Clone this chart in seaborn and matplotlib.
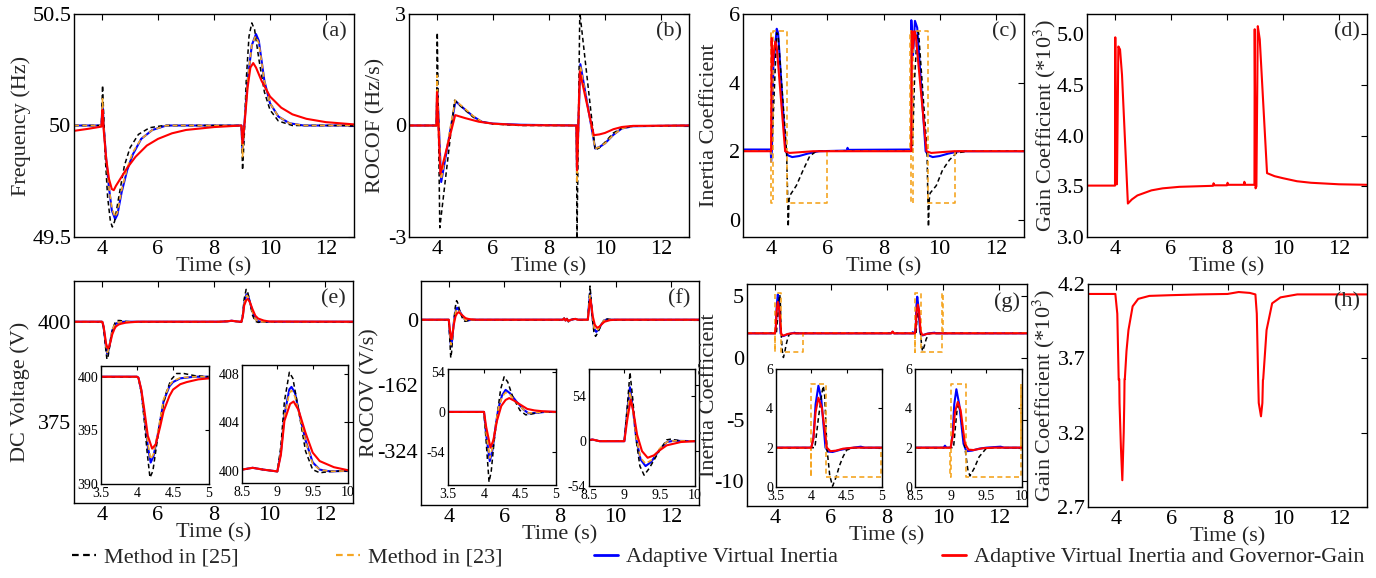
import matplotlib
matplotlib.use("Agg")
import matplotlib.pyplot as plt
import seaborn as sns
from matplotlib.lines import Line2D

sns.set_theme(style="white")
plt.rcParams['font.family'] = ['Liberation Serif', 'DejaVu Serif']
plt.rcParams['mathtext.fontset'] = 'stix'

W, H = 1376, 578

# ---------------- data (time, value) ----------------
# (a) Frequency (Hz)
a_m25 = [(3,50),(3.98,50),(4.02,50.18),(4.06,50.05),(4.12,49.85),(4.2,49.68),(4.3,49.57),(4.37,49.545),
         (4.45,49.57),(4.6,49.68),(4.8,49.82),(5.0,49.9),(5.3,49.96),(5.7,49.99),(6.2,50.0),(8.98,50),
         (9.02,49.8),(9.08,49.95),(9.15,50.2),(9.25,50.4),(9.35,50.46),(9.45,50.43),(9.6,50.3),(9.8,50.15),
         (10.0,50.07),(10.3,50.02),(10.8,50.0),(13,50)]
a_m23 = [(3,50),(3.98,50),(4.02,50.12),(4.06,50.0),(4.15,49.85),(4.25,49.72),(4.35,49.63),(4.46,49.59),
         (4.55,49.61),(4.7,49.71),(4.9,49.81),(5.1,49.88),(5.4,49.94),(5.8,49.98),(6.3,50),(8.98,50),
         (9.02,49.86),(9.08,50.0),(9.2,50.2),(9.35,50.36),(9.48,50.40),(9.6,50.37),(9.8,50.2),(10.0,50.1),
         (10.3,50.04),(10.7,50.01),(11.2,50),(13,50)]
a_avi = [(3,50),(3.98,50),(4.02,50.1),(4.06,50.0),(4.15,49.85),(4.25,49.72),(4.35,49.62),(4.47,49.58),
         (4.55,49.6),(4.7,49.7),(4.9,49.8),(5.1,49.87),(5.4,49.94),(5.8,49.98),(6.3,50),(8.98,50),
         (9.02,49.88),(9.08,50.0),(9.2,50.2),(9.35,50.36),(9.5,50.41),(9.6,50.38),(9.8,50.2),(10.0,50.1),
         (10.3,50.04),(10.7,50.01),(11.2,50),(13,50)]
a_avig = [(3,49.976),(3.5,49.985),(3.98,49.995),(4.02,50.07),(4.06,49.98),(4.15,49.85),(4.25,49.76),
          (4.35,49.715),(4.42,49.71),(4.5,49.73),(4.7,49.77),(4.9,49.81),(5.2,49.86),(5.6,49.91),(6.0,49.94),
          (6.5,49.965),(7,49.98),(8,49.993),(8.98,50),(9.02,49.92),(9.1,50.02),(9.2,50.17),(9.3,50.26),
          (9.4,50.28),(9.5,50.26),(9.7,50.2),(10.0,50.13),(10.4,50.08),(10.8,50.05),(11.3,50.03),(12,50.015),(13,50.005)]

# (b) ROCOF (Hz/s)
b_m25 = [(3,0),(3.98,0),(4.01,2.5),(4.1,-2.75),(4.63,0.68),(4.8,0.55),(5.0,0.42),(5.3,0.22),(5.6,0.1),
         (6.0,0.04),(7,0.0),(8.98,0),(9.0,-3.05),(9.1,3.05),(9.65,-0.66),(9.8,-0.6),(10.0,-0.45),(10.3,-0.2),
         (10.6,-0.07),(11,-0.01),(13,0)]
b_m23 = [(3,0),(3.98,0),(4.0,1.35),(4.02,0.9),(4.15,-1.45),(4.65,0.68),(4.8,0.58),(5.0,0.45),(5.3,0.25),
         (5.6,0.1),(6,0.04),(7,0.01),(8.98,0),(9.0,-1.55),(9.12,1.6),(9.65,-0.62),(9.8,-0.58),(10,-0.48),
         (10.3,-0.25),(10.6,-0.08),(11,-0.02),(13,0)]
b_avi = [(3,0),(3.98,0),(4.01,1.0),(4.15,-1.52),(4.66,0.66),(4.8,0.56),(5.0,0.43),(5.3,0.24),(5.6,0.1),
         (6,0.05),(7,0.02),(8,0.01),(8.98,0),(9.0,-1.2),(9.12,1.65),(9.65,-0.62),(9.8,-0.58),(10,-0.48),
         (10.3,-0.25),(10.6,-0.08),(11,-0.02),(13,0)]
b_avig = [(3,0),(3.98,0),(4.0,0.9),(4.12,-1.3),(4.65,0.28),(5.0,0.2),(5.5,0.1),(6,0.05),(7,0.01),(8.98,0),
          (9.0,-1.2),(9.1,1.45),(9.6,-0.26),(9.8,-0.24),(10,-0.2),(10.3,-0.1),(10.6,-0.04),(11,-0.01),(13,0)]

# (c) Inertia coefficient
c_m25 = [(3,2),(4.03,2),(4.1,3.5),(4.2,5.45),(4.25,5.4),(4.55,2.0),(4.58,1.0),(4.61,-0.2),(4.64,0.6),
         (4.7,0.75),(4.9,1.0),(5.14,1.45),(5.37,1.85),(5.6,2.0),(9.03,2),(9.1,4),(9.2,5.5),(9.25,5.45),
         (9.55,2.0),(9.57,1.0),(9.6,-0.2),(9.63,0.6),(9.66,0.78),(9.88,1.0),(10.1,1.45),(10.35,1.75),
         (10.6,1.95),(11.0,2.0),(13,2)]
c_m23 = [(3,2),(3.98,2),(3.98,5.5),(4.0,5.5),(4.0,0.5),(4.08,0.5),(4.08,5.5),(4.58,5.5),(4.58,0.5),
         (6.0,0.5),(6.0,2),(8.96,2),(8.96,5.5),(8.98,5.5),(8.98,0.5),(9.05,0.5),(9.05,5.5),(9.57,5.5),
         (9.57,0.5),(10.56,0.5),(10.56,2),(13,2)]
c_avi = [(3,2.05),(3.99,2.05),(4.0,1.7),(4.03,2.05),(4.08,4.5),(4.2,5.57),(4.25,5.45),(4.52,2.0),(4.6,1.88),
         (4.75,1.83),(5.0,1.86),(5.3,1.93),(5.7,2.0),(6.7,2.02),(6.72,2.1),(6.75,2.04),(8.98,2.05),(8.99,5.82),
         (9.05,4.8),(9.12,5.8),(9.2,5.6),(9.5,2.0),(9.6,1.88),(9.75,1.83),(10.0,1.86),(10.3,1.93),(10.7,2.0),(13,2.0)]
c_avig = [(3,2.0),(4.0,2.0),(4.02,5.3),(4.05,4.5),(4.1,4.9),(4.15,5.2),(4.2,5.05),(4.5,2.0),(4.65,1.95),
          (5.0,1.97),(5.5,2.0),(8.99,2.0),(9.01,5.5),(9.05,5.0),(9.1,5.5),(9.15,5.35),(9.53,2.0),(9.7,1.95),
          (10.0,1.97),(10.5,2.0),(13,2.0)]

# (d) Gain coefficient (x10^3)
d_avig = [(3,3.507),(4.0,3.507),(4.01,4.97),(4.04,3.52),(4.07,3.52),(4.12,4.88),(4.18,4.85),(4.25,4.6),
          (4.46,3.33),(4.6,3.37),(4.8,3.41),(5.0,3.43),(5.3,3.46),(5.7,3.48),(6.3,3.495),(7.5,3.505),
          (7.52,3.53),(7.55,3.51),(8.0,3.51),(8.02,3.535),(8.05,3.515),(8.6,3.515),(8.62,3.545),(8.65,3.515),
          (8.98,3.515),(8.99,5.05),(9.02,3.48),(9.05,3.5),(9.1,5.08),(9.17,4.95),(9.43,3.63),(9.7,3.6),
          (10.0,3.58),(10.5,3.55),(11.0,3.535),(12.0,3.52),(13,3.515)]

# (e) DC voltage (V)
e_m25 = [(3,400),(4.0,400),(4.02,399.9),(4.06,398.5),(4.1,396),(4.14,393),(4.18,390.6),(4.22,391.2),
         (4.27,393.5),(4.33,396.3),(4.4,398.4),(4.47,399.7),(4.55,400.3),(4.65,400.3),(4.8,400.1),(5,400.0),
         (8.2,400.0),(8.5,400.1),(8.65,400.25),(8.8,400.1),(9.0,399.95),(9.05,402),(9.1,405.7),(9.17,408.1),
         (9.22,407.6),(9.3,405.0),(9.4,401.6),(9.5,400.1),(9.6,399.84),(9.75,399.95),(10,400),(13,400)]
e_m23 = [(3,400),(4.0,400),(4.02,399.9),(4.06,398.7),(4.1,396.6),(4.15,393.8),(4.19,392.3),(4.23,392.8),
         (4.3,395.2),(4.37,397.9),(4.45,399.2),(4.5,399.6),(4.6,399.9),(4.8,400),(5,400),
         (8.2,400.0),(8.5,400.1),(8.65,400.25),(8.8,400.1),(9.0,399.95),(9.05,401.5),(9.1,404.5),(9.17,406.4),
         (9.2,406.6),(9.25,406.1),(9.3,404.9),(9.4,402.4),(9.5,400.6),(9.6,400.1),(9.75,399.95),(10,400),(13,400)]
e_avi = [(3,400),(4.0,400),(4.02,399.9),(4.06,398.7),(4.1,396.5),(4.15,393.5),(4.19,392.0),(4.23,392.6),
         (4.3,395),(4.37,397.75),(4.45,399.1),(4.5,399.5),(4.6,399.85),(4.8,400),(5,400),
         (8.2,400.0),(8.5,400.1),(8.65,400.25),(8.8,400.1),(9.0,399.95),(9.05,401.5),(9.1,404.6),(9.17,406.7),
         (9.2,406.9),(9.25,406.4),(9.3,405),(9.4,402.5),(9.5,400.7),(9.6,400.1),(9.75,399.95),(10,400),(13,400)]
e_avig = [(3,400),(4.0,400),(4.02,399.9),(4.06,398.8),(4.1,397),(4.15,394.5),(4.21,393.3),(4.26,393.7),
          (4.32,395.3),(4.37,396.8),(4.45,398.2),(4.5,398.8),(4.6,399.3),(4.69,399.5),(4.85,399.75),(5,399.85),
          (5.3,400),(8.2,400.0),(8.5,400.1),(8.65,400.25),(8.8,400.1),(9.0,399.95),(9.05,401.3),(9.1,404.1),
          (9.18,405.5),(9.23,405.7),(9.3,405.0),(9.4,403.1),(9.5,401.5),(9.6,400.8),(9.8,400.3),(10,400.05),(13,400)]

# (f) ROCOV (V/s)
f_m25 = [(3,0),(4.0,0),(4.03,-40),(4.07,-94),(4.1,-80),(4.14,-40),(4.19,0),(4.23,30),(4.28,47),(4.33,40),
         (4.4,20),(4.5,2),(4.58,-4),(4.65,-3),(4.8,0),(5,0),(8.1,0),(8.15,4),(8.2,-3),(8.25,3),(8.3,-5),(8.4,0),
         (8.55,2),(8.65,0),(9.0,0),(9.04,40),(9.08,83),(9.12,50),(9.17,0),(9.22,-30),(9.28,-41),(9.35,-33),
         (9.5,-11),(9.6,1.6),(9.65,2.4),(9.8,0.5),(10,0),(13,0)]
f_m23 = [(3,0),(4.0,0),(4.03,-28),(4.08,-62),(4.12,-47),(4.16,-18),(4.2,5),(4.25,20),(4.3,26),(4.36,23),
         (4.45,13),(4.55,3),(4.62,-1.5),(4.7,-1),(4.85,0),(5,0),(8.1,0),(8.15,3),(8.2,-2),(8.25,2),(8.3,-4),
         (8.4,0),(8.55,2),(8.65,0),(9.0,0),(9.04,32),(9.08,60),(9.12,38),(9.17,3),(9.23,-20),(9.3,-27),
         (9.38,-23),(9.5,-9),(9.6,-1),(9.7,0.5),(10,0),(13,0)]
f_avi = [(3,0),(4.0,0),(4.03,-30),(4.08,-66),(4.12,-50),(4.16,-20),(4.2,5),(4.25,22),(4.3,29.5),(4.36,25),
         (4.45,14),(4.55,3),(4.62,-2),(4.7,-1.5),(4.85,0),(5,0),(8.1,0),(8.15,3),(8.2,-2),(8.25,2),(8.3,-4),
         (8.4,0),(8.55,2),(8.65,0),(9.0,0),(9.04,35),(9.08,65),(9.12,40),(9.17,2),(9.23,-22),(9.3,-30),
         (9.38,-25),(9.5,-10),(9.6,-1),(9.7,0.5),(10,0),(13,0)]
f_avig = [(3,0),(4.0,0),(4.03,-20),(4.09,-48),(4.13,-38),(4.18,-12),(4.24,8),(4.3,16),(4.35,18.5),(4.42,15),
          (4.5,10),(4.6,4),(4.7,2),(4.8,1),(5,0),(8.1,0),(8.15,3),(8.2,-2),(8.25,2),(8.3,-3),(8.4,0),(8.55,2),
          (8.65,0),(9.0,0),(9.04,25),(9.09,50),(9.13,35),(9.18,8),(9.25,-12),(9.33,-20),(9.42,-17),(9.5,-11),
          (9.6,-5),(9.8,-1),(10,0),(13,0)]

# (g) Inertia coefficient
g_m25 = [(3,2),(4.05,2),(4.1,3.5),(4.15,4.8),(4.17,5.14),(4.19,4.6),(4.22,2.0),(4.26,0.6),(4.3,0.04),
         (4.35,0.5),(4.4,1.1),(4.45,1.55),(4.5,1.88),(4.6,2.0),(9.04,2),(9.07,3.2),(9.1,4.28),(9.14,3.8),
         (9.2,2.0),(9.24,0.9),(9.27,0.56),(9.33,0.95),(9.4,1.54),(9.5,1.97),(9.6,2.0),(13,2)]
g_m23 = [(3,2),(3.99,2),(3.99,0.5),(4.0,0.5),(4.0,5.25),(4.21,5.25),(4.21,0.5),(4.99,0.5),(4.99,2),
         (8.99,2),(8.99,0.5),(9.0,0.5),(9.0,5.25),(9.21,5.25),(9.21,0.5),(9.98,0.5),(9.98,5.25),(9.99,5.25),
         (9.99,2),(13,2)]
g_avi = [(3,2),(4.0,2),(4.03,2.5),(4.06,4.2),(4.1,5.15),(4.14,4.5),(4.2,2.0),(4.24,1.8),(4.3,1.78),
         (4.4,1.88),(4.5,1.95),(4.6,2.0),(4.7,2.05),(4.75,2.0),(8.15,2.0),(8.2,2.12),(8.25,2.0),(8.9,2.0),
         (8.92,2.1),(8.94,2.0),(9.0,2.0),(9.03,2.8),(9.05,4.2),(9.08,4.97),(9.12,4.2),(9.18,2.2),(9.22,1.82),
         (9.3,1.85),(9.4,1.95),(9.5,2.0),(9.7,2.05),(9.75,2.0),(13,2)]
g_avig = [(3,2),(4.0,2),(4.03,2.5),(4.06,3.8),(4.1,4.54),(4.15,4.0),(4.22,2.0),(4.27,1.82),(4.35,1.85),
          (4.45,1.95),(4.6,2.0),(8.15,2.0),(8.2,2.15),(8.25,2.0),(9.0,2.0),(9.03,2.6),(9.06,3.8),(9.1,4.33),
          (9.14,3.9),(9.2,2.2),(9.25,1.9),(9.32,1.88),(9.45,1.97),(9.6,2.0),(13,2)]

# (h) Gain coefficient (x10^3)
h_avig = [(3,4.133),(3.98,4.133),(4.05,4.0),(4.1,3.555),(4.12,3.56),(4.13,3.40),(4.18,3.1),(4.23,2.88),
          (4.28,3.2),(4.3,3.4),(4.31,3.56),(4.32,3.56),(4.38,3.75),(4.45,3.89),(4.6,4.05),(4.8,4.1),
          (5.2,4.12),(6.0,4.125),(7.0,4.13),(8.0,4.133),(8.4,4.146),(8.8,4.14),(9.0,4.13),(9.05,4.0),
          (9.1,3.555),(9.12,3.4),(9.2,3.31),(9.25,3.4),(9.27,3.555),(9.28,3.56),(9.4,3.89),(9.6,4.07),
          (9.9,4.11),(10.5,4.13),(13,4.13)]

legend_labels = ["Method in [25]", "Method in [23]", "Adaptive Virtual Inertia",
                 "Adaptive Virtual Inertia and Governor-Gain"]
time_ticks = [4, 6, 8, 10, 12]

# ---------------- styles ----------------
C_BLACK, C_ORANGE, C_BLUE, C_RED = "#000000", "#F5A623", "#0000FF", "#FF0000"
STY = {
    "m25": dict(color=C_BLACK, linestyle=(0, (3, 2)), linewidth=1.1),
    "m23": dict(color=C_ORANGE, linestyle=(0, (3, 2)), linewidth=1.2),
    "avi": dict(color=C_BLUE, linestyle="-", linewidth=1.5),
    "avig": dict(color=C_RED, linestyle="-", linewidth=1.5),
}


def draw(ax, series, key):
    t = [p[0] for p in series]
    v = [p[1] for p in series]
    sns.lineplot(x=t, y=v, ax=ax, sort=False, estimator=None, **STY[key])


def box(x0, y0, x1, y1):
    return [x0 / W, 1 - y1 / H, (x1 - x0) / W, (y1 - y0) / H]


def style(ax, ylim, yticks, ylabels, xlim=(3, 13), xticks=time_ticks, xlabels=None, fs=16, pad=2, length=4):
    ax.set_xlim(*xlim)
    ax.set_ylim(*ylim)
    ax.set_xticks(xticks)
    ax.set_xticklabels(xlabels if xlabels else [str(x) for x in xticks])
    ax.set_yticks(yticks)
    ax.set_yticklabels(ylabels)
    ax.tick_params(direction="in", top=True, right=True, labelsize=fs, length=length, width=0.8,
                   pad=pad, colors="black")
    for s in ax.spines.values():
        s.set_color("black")
        s.set_linewidth(1.0)
        s.set_visible(True)
    ax.set_xlabel("")
    ax.set_ylabel("")
    ax.grid(False)


fig = plt.figure(figsize=(W / 100, H / 100), dpi=100)


def main_panel(rect, data, ylim, yticks, ylabels, ylabel, tag, ylab_x):
    ax = fig.add_axes(box(*rect))
    for k in ["avi", "m25", "m23", "avig"]:
        if k in data:
            draw(ax, data[k], k)
    style(ax, ylim, yticks, ylabels)
    ax.set_xlabel("Time (s)", fontsize=16, labelpad=-1)
    ax.set_ylabel(ylabel, fontsize=16)
    ax.yaxis.label.set_verticalalignment("center")
    x0, x1 = rect[0], rect[2]
    ax.yaxis.set_label_coords((ylab_x - x0) / (x1 - x0), 0.5)
    ax.text(0.93, 0.92, tag, transform=ax.transAxes, fontsize=16, ha="center", va="center")
    return ax


def inset(rect, data, xlim, xticks, xlabels, ylim, yticks, ylabels):
    ax = fig.add_axes(box(*rect))
    ax.set_facecolor("white")
    for k in ["avi", "m25", "m23", "avig"]:
        if k in data:
            draw(ax, data[k], k)
    style(ax, ylim, yticks, ylabels, xlim=xlim, xticks=xticks, xlabels=xlabels, fs=10, pad=1, length=3)
    ax.tick_params(axis="x", pad=2)
    ax.tick_params(axis="y", pad=2)
    return ax


# top row
main_panel((74, 14, 354, 237), {"m25": a_m25, "m23": a_m23, "avi": a_avi, "avig": a_avig},
           (49.5, 50.5), [49.5, 50, 50.5], ["49.5", "50", "50.5"], "Frequency (Hz)", "(a)", 21)
main_panel((409, 14, 689, 237), {"m25": b_m25, "m23": b_m23, "avi": b_avi, "avig": b_avig},
           (-3, 3), [-3, 0, 3], ["-3", "0", "3"], "ROCOF (Hz/s)", "(b)", 376)
main_panel((743, 14, 1024, 237), {"m25": c_m25, "avi": c_avi, "avig": c_avig, "m23": c_m23},
           (-0.5, 6), [0, 2, 4, 6], ["0", "2", "4", "6"], "Inertia Coefficient", "(c)", 710)
main_panel((1087, 14, 1367, 237), {"avig": d_avig},
           (3.0, 5.2), [3.0, 3.5, 4.0, 4.5, 5.0], ["3.0", "3.5", "4.0", "4.5", "5.0"],
           "Gain Coefficient (*10$^{3}$)", "(d)", 1045)

# bottom row
e_data = {"m25": e_m25, "m23": e_m23, "avi": e_avi, "avig": e_avig}
f_data = {"m25": f_m25, "m23": f_m23, "avi": f_avi, "avig": f_avig}
g_data = {"m25": g_m25, "m23": g_m23, "avi": g_avi, "avig": g_avig}
main_panel((74, 281, 353, 503), e_data, (354.6, 410.2), [375, 400], ["375", "400"], "DC Voltage (V)", "(e)", 20)
main_panel((421, 281, 699, 505), f_data, (-457, 95.5), [-324, -162, 0], ["-324", "-162", "0"],
           "ROCOV (V/s)", "(f)", 370)
main_panel((747, 284, 1027, 506), g_data, (-12, 6), [-10, -5, 0, 5], ["-10", "-5", "0", "5"],
           "Inertia Coefficient", "(g)", 710)
main_panel((1088, 284, 1367, 507), {"avig": h_avig}, (2.7, 4.2), [2.7, 3.2, 3.7, 4.2],
           ["2.7", "3.2", "3.7", "4.2"], "Gain Coefficient (*10$^{3}$)", "(h)", 1044)

# insets
x1t, x1l = [3.5, 4, 4.5, 5], ["3.5", "4", "4.5", "5"]
x2t, x2l = [8.5, 9, 9.5, 10], ["8.5", "9", "9.5", "10"]
inset((101, 366, 209, 484), e_data, (3.5, 5), x1t, x1l, (390, 401), [390, 395, 400], ["390", "395", "400"])
inset((242, 365, 348, 483), e_data, (8.5, 10), x2t, x2l, (399, 408.7), [400, 404, 408], ["400", "404", "408"])
inset((448, 369, 556, 485), f_data, (3.5, 5), x1t, x1l, (-98, 57.5), [-54, 0, 54], ["-54", "0", "54"])
inset((589, 369, 695, 486), f_data, (8.5, 10), x2t, x2l, (-54, 87), [-54, 0, 54], ["-54", "0", "54"])
inset((776, 369, 882, 487), g_data, (3.5, 5), x1t, x1l, (0, 6), [0, 2, 4, 6], ["0", "2", "4", "6"])
inset((915, 369, 1022, 487), g_data, (8.5, 10), x2t, x2l, (0, 6), [0, 2, 4, 6], ["0", "2", "4", "6"])

# legend (four entries spread along the bottom)
leg_x = [72, 336, 594, 942]
for lab, key, x in zip(legend_labels, ["m25", "m23", "avi", "avig"], leg_x):
    h = Line2D([], [], **STY[key])
    h.set_linewidth(2.0 if key in ("avi", "avig") else 1.6)
    fig.legend([h], [lab], loc="center left", bbox_to_anchor=(x / W, 1 - 557 / H), frameon=False,
               fontsize=16, handlelength=1.1, handletextpad=0.35, borderpad=0, borderaxespad=0)

fig.savefig("out.png", dpi=100, facecolor="white")
